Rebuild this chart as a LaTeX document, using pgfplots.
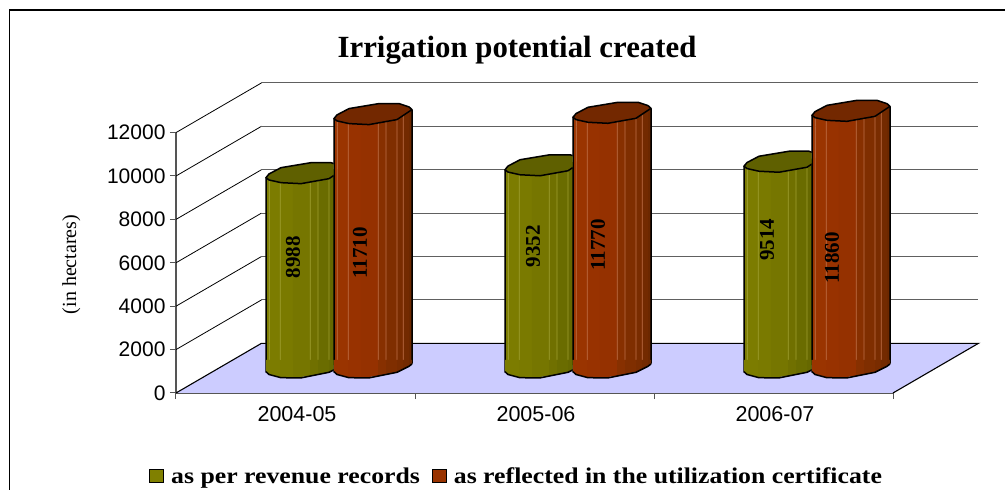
\documentclass[border=0pt]{standalone}
\usepackage{pgfplots}
\usepackage{pgfplotstable}
\usepackage{fontspec}
\setmainfont{Liberation Serif}
\newfontfamily\arialf{Liberation Sans}
\newfontfamily\legf[FakeStretch=1.145]{Liberation Serif}
\pgfplotsset{compat=1.18}

\definecolor{floorc}{HTML}{CCCCFF}
\definecolor{axisc}{HTML}{555555}
\definecolor{gridc}{HTML}{606060}
\definecolor{Ot}{HTML}{5F6000}\definecolor{Ol}{HTML}{A0A030}\definecolor{Ok}{HTML}{808000}
\definecolor{Rt}{HTML}{732800}\definecolor{Rl}{HTML}{C07048}\definecolor{Rk}{HTML}{993300}
\definecolor{O1}{HTML}{7C7C00}\definecolor{O2}{HTML}{7C7C00}\definecolor{O3}{HTML}{7A7A00}
\definecolor{O4}{HTML}{767600}\definecolor{O5}{HTML}{707000}\definecolor{O6}{HTML}{6A6C00}
\definecolor{O7}{HTML}{666800}\definecolor{O8}{HTML}{626400}\definecolor{O9}{HTML}{5E6000}
\definecolor{R1}{HTML}{9A3400}\definecolor{R2}{HTML}{9A3400}\definecolor{R3}{HTML}{983200}
\definecolor{R4}{HTML}{953100}\definecolor{R5}{HTML}{873000}\definecolor{R6}{HTML}{7F2E00}
\definecolor{R7}{HTML}{792C00}\definecolor{R8}{HTML}{732A00}\definecolor{R9}{HTML}{6C2800}

\pgfplotstableread{
x    rev   cert
0.5  8988  11710
1.5  9352  11770
2.5  9514  11860
}\chartdata

\pgfplotstableread{
x      y     lab
0.4895 6267  8988
0.770  6460  11710
1.494  6774  9352
1.766  6820  11770
2.473  7051  9514
2.745  6221  11860
}\labeldata

% outline helpers for the marks
\newcommand\PP[2]{\pgfqpoint{#1pt}{#2pt}}
\newcommand\quadf[5]{% u1 b1 u2 b2 colour
  \pgfsetfillcolor{#5}%
  \pgfpathmoveto{\PP{#1}{#2}}\pgfpathlineto{\PP{#3}{#4}}%
  \pgfpathlineto{\PP{#3}{8}}\pgfpathlineto{\PP{#1}{8}}\pgfpathclose
  \pgfusepath{fill}}
% #3: right-hand limit of the visible part of the cylinder
\newcommand\defbottom[3]{%
\pgfdeclareplotmark{bot#1}{%
  \begin{pgfscope}
  \pgfpathrectangle{\PP{-41}{-20}}{\PP{\fpeval{41+#3}}{40}}\pgfusepath{clip}
  \quadf{-39}{-3.7}{-35.6}{-6.5}{#11}%
  \quadf{-36}{-6.5}{-24.8}{-9.7}{#12}%
  \quadf{-25}{-9.7}{-11.8}{-9.7}{#13}%
  \quadf{-12}{-9.7}{5.2}{-8}{#14}%
  \quadf{5}{-8}{13.2}{-6.4}{#15}%
  \quadf{13}{-6.4}{24.2}{-4.3}{#16}%
  \quadf{24}{-4.3}{30.2}{-1.3}{#17}%
  \quadf{30}{-1.3}{36.2}{1.7}{#18}%
  \quadf{36}{1.7}{39}{4}{#19}%
  \pgfsetstrokecolor{black}\pgfsetlinewidth{1.5pt}\pgfsetroundjoin
  \pgfpathmoveto{\PP{-39}{-3.7}}\pgfpathlineto{\PP{-36}{-6.5}}\pgfpathlineto{\PP{-24}{-9.7}}%
  \pgfpathlineto{\PP{-4}{-9.9}}\pgfpathlineto{\PP{24}{-4.3}}\pgfpathlineto{\PP{36}{1.7}}\pgfpathlineto{\PP{39}{4}}%
  \pgfusepath{stroke}
  \end{pgfscope}}%
\pgfdeclareplotmark{top#1}{%
  \begin{pgfscope}
  \pgfpathrectangle{\PP{-41}{-20}}{\PP{\fpeval{41+#3}}{40}}\pgfusepath{clip}
  \pgfsetfillcolor{#2}\pgfsetstrokecolor{black}\pgfsetlinewidth{1.5pt}\pgfsetroundjoin
  \pgfpathmoveto{\PP{-39}{-4.7}}\pgfpathlineto{\PP{-36}{-1}}\pgfpathlineto{\PP{-24}{5.3}}%
  \pgfpathlineto{\PP{6}{10.3}}\pgfpathlineto{\PP{26}{10.3}}\pgfpathlineto{\PP{36}{7}}\pgfpathlineto{\PP{39}{4.3}}%
  \pgfpathlineto{\PP{24}{-5.7}}\pgfpathlineto{\PP{-4}{-10.7}}\pgfpathlineto{\PP{-24}{-9.7}}\pgfpathlineto{\PP{-36}{-7}}\pgfpathclose
  \pgfusepath{fill,stroke}
  \end{pgfscope}}}
\defbottom{O}{Ot}{28.5}
\defbottom{R}{Rt}{41}

\newcommand\facet[5]{% col, series offset, centre, width, colour
  \addplot[forget plot,ybar,bar width=#4pt,bar shift=0pt,fill=#5,draw=none,
    xshift=\fpeval{43.5+#2+#3}pt,yshift=\fpeval{25+0.11*#3}pt]
    table[x=x,y=#1]{\chartdata};}
\newcommand\cyl[3]{% column, series offset, colour prefix
  \addplot[forget plot,only marks,mark=bot#3,xshift=\fpeval{43.5+#2}pt,yshift=25pt]
    table[x=x,y expr=0]{\chartdata};
  \facet{#1}{#2}{-37.3}{3.8}{#31}
  \facet{#1}{#2}{-30.3}{10.8}{#32}
  \facet{#1}{#2}{-18.4}{13.4}{#33}
  \facet{#1}{#2}{-3.4}{17.4}{#34}
  \facet{#1}{#2}{9.1}{8.4}{#35}
  \facet{#1}{#2}{18.6}{11.4}{#36}
  \facet{#1}{#2}{27.1}{6.4}{#37}
  \facet{#1}{#2}{33.1}{6.4}{#38}
  \facet{#1}{#2}{37.5}{3}{#39}
  \facet{#1}{#2}{-35.8}{0.7}{#3l}
  \facet{#1}{#2}{-24.8}{0.7}{#3l}
  \facet{#1}{#2}{5.2}{0.7}{#3l}
  \facet{#1}{#2}{13}{0.7}{#3l}
  \facet{#1}{#2}{24}{0.7}{#3l}
  \facet{#1}{#2}{30.2}{0.7}{#3l}
  \facet{#1}{#2}{-39}{1.5}{black}
  \facet{#1}{#2}{39}{1.5}{black}
  \addplot[forget plot,only marks,mark=top#3,xshift=\fpeval{43.5+#2}pt,yshift=25pt]
    table[x=x,y=#1]{\chartdata};}

\begin{document}
\begin{tikzpicture}[x=1pt,y=1pt]
\path[use as bounding box] (0,0) rectangle (1005,490);
\begin{axis}[
  at={(176pt,97pt)},anchor=south west,
  scale only axis,width=717pt,height=260.4pt,
  xmin=0,xmax=3,ymin=0,ymax=12000,
  clip=false,
  axis x line*=bottom,axis y line*=left,
  axis line style={axisc,line width=1.2pt},
  tick style={axisc,line width=1pt},
  tick align=outside,major tick length=6pt,
  xtick={0,1,2,3},xticklabels={},
  extra x ticks={0.5,1.5,2.5},
  extra x tick labels={2004-05,2005-06,2006-07},
  extra x tick style={major tick length=0pt},
  xticklabel style={font=\arialf\fontsize{21.5}{24}\selectfont,yshift=-10pt,xshift=1.5pt},
  ytick={0,2000,...,12000},
  yticklabel style={font=\arialf\fontsize{21}{24}\selectfont,/pgf/number format/assume math mode=true,xshift=-1pt},
  /pgf/number format/set thousands separator={},
  scaled y ticks=false,
  title={\textbf{Irrigation potential created}},
  title style={at={(0.4756,1.295)},anchor=center,font=\fontsize{30.8}{33}\selectfont},
  ylabel={(in hectares)},
  ylabel style={at={(axis description cs:-0.146,0.4935)},anchor=center,font=\fontsize{20}{22}\selectfont},
  legend columns=2,
  legend cell align=left,
  legend style={at={(0.475,-0.319)},anchor=center,draw=none,fill=none,
    font=\legf\bfseries\fontsize{22.5}{25}\selectfont,
    /tikz/every odd column/.append style={column sep=5pt},
    /tikz/every even column/.append style={column sep=10pt},
    inner sep=0pt},
]
% floor
\addplot[forget plot,fill=floorc,draw=none] coordinates {(0,0) (0.3577,2290) (3.3577,2290) (3,0)} -- cycle;
\addplot[forget plot,black,line width=1.1pt] coordinates {(0,0) (0.3577,2290) (3.3577,2290) (3,0)};
% wall and side gridlines
\addplot[forget plot,black,line width=0.8pt,unbounded coords=jump] coordinates {
(0,2000) (0.3577,4290) (nan,nan)
(0,4000) (0.3577,6290) (nan,nan)
(0,6000) (0.3577,8290) (nan,nan)
(0,8000) (0.3577,10290) (nan,nan)
(0,10000) (0.3577,12290) (nan,nan)
(0,12000) (0.3577,14290)};
\addplot[forget plot,gridc,line width=1.1pt,unbounded coords=jump] coordinates {
(0.3577,4290) (3.3577,4290) (nan,nan)
(0.3577,6290) (3.3577,6290) (nan,nan)
(0.3577,8290) (3.3577,8290) (nan,nan)
(0.3577,10290) (3.3577,10290) (nan,nan)
(0.3577,12290) (3.3577,12290) (nan,nan)
(0.3577,14290) (3.3577,14290)};
% cylinders
\cyl{rev}{-34}{O}
\cyl{cert}{34}{R}
% value labels
\addplot[forget plot,draw=none,mark=none,nodes near coords,point meta=explicit symbolic,
  nodes near coords style={anchor=center,rotate=90,inner sep=0pt,font=\bfseries\fontsize{21}{23}\selectfont}]
  table[x=x,y=y,meta=lab]{\labeldata};
% legend
\addlegendimage{legend image code/.code={\draw[fill=Ok,draw=black,line width=1pt] (0pt,-6pt) rectangle (14pt,7pt);}}
\addlegendentry{as per revenue records}
\addlegendimage{legend image code/.code={\draw[fill=Rk,draw=black,line width=1pt] (0pt,-6pt) rectangle (14pt,7pt);}}
\addlegendentry{as reflected in the utilization certificate}
\end{axis}
% chart frame
\draw[black,line width=1.6pt] (9.5,0) -- (9.5,480) -- (1005,480);
\end{tikzpicture}
\end{document}
